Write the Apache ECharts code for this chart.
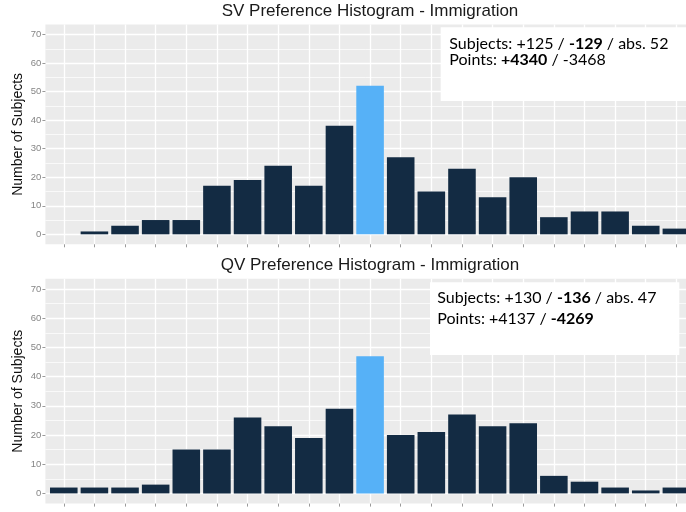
<!DOCTYPE html>
<html>
<head>
<meta charset="utf-8">
<script src="https://cdn.jsdelivr.net/npm/echarts@6/dist/echarts.min.js"></script>
<style>html,body{margin:0;padding:0;background:#fff}#c{width:686px;height:512px}</style>
</head>
<body>
<div id="c"></div>
<script>
// Preference bins (-10 .. 10), 0 = abstain
const bins = [-10,-9,-8,-7,-6,-5,-4,-3,-2,-1,0,1,2,3,4,5,6,7,8,9,10];
const svCounts = [0,1,3,5,5,17,19,24,17,38,52,27,15,23,13,20,6,8,8,3,2];
const qvCounts = [2,2,2,3,15,15,26,23,19,29,47,20,21,27,23,24,6,4,2,1,2];
const yTicks = [0,10,20,30,40,50,60,70];
const yMinor = [5,15,25,35,45,55,65];
const titles = ['SV Preference Histogram - Immigration','QV Preference Histogram - Immigration'];
const yName = 'Number of Subjects';
const notes = [
  {subj:['+125','-129','52'], boldSubj:1, pts:['+4340','-3468'], boldPts:0},
  {subj:['+130','-136','47'], boldSubj:1, pts:['+4137','-4269'], boldPts:1}
];

const NAVY = '#132B43', BLUE = '#56B1F7';
const YMIN = -3.5, YMAX = 73.5, XPAD = 0.6;
const panels = [{top:24.5, height:219.8}, {top:278.8, height:224.8}];
const left = 45.4, step = 30.63;
const width = (bins.length - 1 + 2 * XPAD) * step;

const chart = echarts.init(document.getElementById('c'), null, {renderer:'canvas'});
const grid = [], xAxis = [], yAxis = [], series = [], title = [], graphic = [];

[svCounts, qvCounts].forEach((counts, i) => {
  const p = panels[i];
  const gi = grid.length;
  // panel grid: grey background + horizontal grid lines + y labels
  grid.push({left:left, top:p.top, width:width, height:p.height, show:true,
    backgroundColor:'#EBEBEB', borderWidth:0});
  xAxis.push({type:'value', gridIndex:gi, min:0, max:1, show:false});
  yAxis.push({type:'value', gridIndex:gi, min:YMIN, max:YMAX,
    name:yName, nameLocation:'middle', nameGap:20, nameMoveOverlap:false,
    nameTextStyle:{fontSize:14, color:'#111', fontFamily:'Liberation Sans'},
    axisLine:{show:false, onZero:false},
    axisTick:{show:true, length:3, customValues:yTicks, lineStyle:{color:'#9a9a9a'}},
    axisLabel:{show:true, customValues:yTicks, margin:4, fontSize:9.5, color:'#858585', fontFamily:'Liberation Sans'},
    splitLine:{show:true, lineStyle:{color:'#FFFFFF', width:1.3}}});
  yAxis.push({type:'value', gridIndex:gi, min:YMIN, max:YMAX,
    axisLine:{show:false, onZero:false}, axisLabel:{show:false, customValues:yMinor},
    axisTick:{show:false, customValues:yMinor},
    splitLine:{show:true, lineStyle:{color:'#FFFFFF', width:0.7}}});
  // data grid: spans first..last bin centre horizontally, full panel height
  const di = grid.length;
  grid.push({left:left + XPAD * step, top:p.top, width:(bins.length - 1) * step, height:p.height, show:false});
  xAxis.push({type:'value', gridIndex:di, min:bins[0], max:bins[bins.length-1], interval:1, z:1,
    axisLine:{show:false, onZero:false},
    axisTick:{show:true, length:3, lineStyle:{color:'#9a9a9a', width:1}},
    axisLabel:{show:false},
    splitLine:{show:true, lineStyle:{color:'#FFFFFF', width:1.3}}});
  yAxis.push({type:'value', gridIndex:di, min:YMIN, max:YMAX, show:false,
    axisLine:{onZero:false}, splitLine:{show:false}});
  series.push({type:'bar', xAxisIndex:di, yAxisIndex:yAxis.length-1, barWidth:0.9*step, clip:false, z:3,
    data: bins.map((b, k) => ({value:[b, counts[k]],
      itemStyle:{color: b === 0 ? BLUE : NAVY, opacity: counts[k] > 0 ? 1 : 0}})),
    silent:true, animation:false});
  title.push({text:titles[i], left:370, top: i === 0 ? 2.5 : 257, textAlign:'center', padding:0,
    textStyle:{fontSize:17, fontWeight:'normal', color:'#1a1a1a', fontFamily:'Liberation Sans'}});
});

const boxes = [
  {x:440.7, y:27.3, w:260, h:73.7, tx:449.3, ty:35.8, lh:16.4},
  {x:430, y:282.3, w:249.3, h:72.7, tx:437.3, ty:290.3, lh:20.6}
];
notes.forEach((n, i) => {
  const b = boxes[i];
  const s = n.subj, pt = n.pts;
  const w = (str, bold) => (bold ? '{b|' + str + '}' : '{n|' + str + '}');
  const line1 = '{n|Subjects: }' + w(s[0], n.boldSubj===0) + '{n| / }' + w(s[1], n.boldSubj===1) + '{n| / abs. ' + s[2] + '}';
  const line2 = '{n|Points: }' + w(pt[0], n.boldPts===0) + '{n| / }' + w(pt[1], n.boldPts===1);
  graphic.push({type:'rect', left:b.x, top:b.y, shape:{width:b.w, height:b.h}, style:{fill:'#FFFFFF'}, z:10});
  graphic.push({type:'text', left:b.tx, top:b.ty, z:11, style:{
    text: line1 + '\n' + line2,
    rich:{
      n:{fontSize:16, fontFamily:'Lato', color:'#111', lineHeight:b.lh},
      b:{fontSize:16, fontFamily:'Lato', fontWeight:'bold', color:'#111', lineHeight:b.lh}
    }}});
});

chart.setOption({animation:false, title, grid, xAxis, yAxis, series, graphic});
</script>
</body>
</html>
